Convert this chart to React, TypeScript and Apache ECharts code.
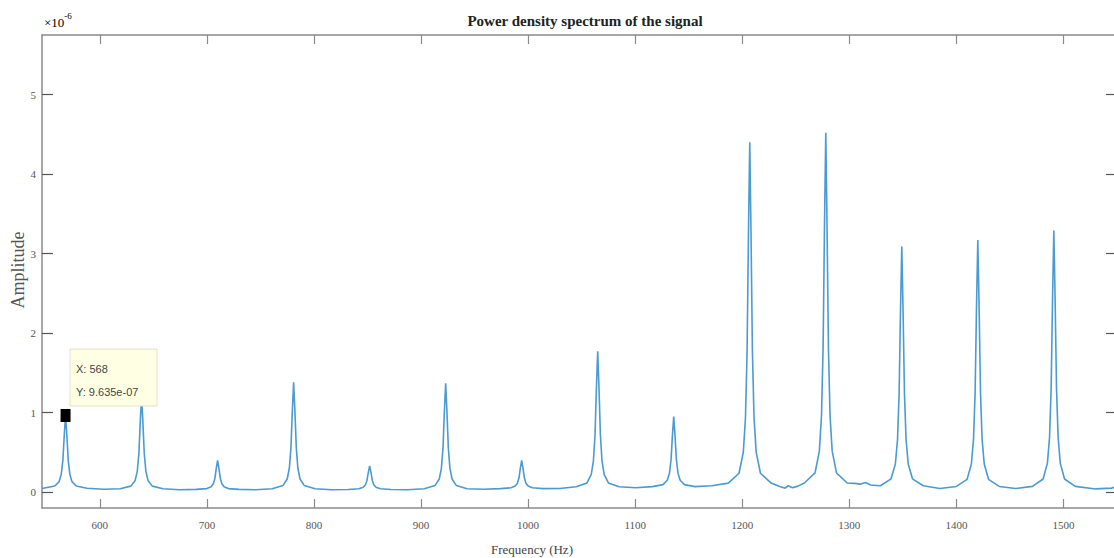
import React, { useEffect, useRef } from "react";
import * as echarts from "echarts";

// Frequency (Hz), amplitude (x1e-6)
const spectrum: [number, number][] = [
  [546, 0.045], [558, 0.076], [562, 0.132], [564, 0.225], [565.5, 0.4], [566.8, 0.719], [568, 0.9635], [569.2, 0.719], [570.5, 0.4], [572, 0.225], [574, 0.132], [578, 0.076], [588, 0.049],
  [603.5, 0.035],
  [619, 0.042], [629, 0.075], [633, 0.147], [635, 0.264], [636.5, 0.486], [637.8, 0.89], [639, 1.2], [640.2, 0.89], [641.5, 0.486], [643, 0.264], [645, 0.147], [649, 0.075], [659, 0.042],
  [674.5, 0.03],
  [690, 0.034], [700, 0.044], [704, 0.067], [706, 0.104], [707.5, 0.174], [708.8, 0.302], [710, 0.4], [711.2, 0.302], [712.5, 0.174], [714, 0.104], [716, 0.067], [720, 0.044], [730, 0.034],
  [745.5, 0.03],
  [761, 0.043], [771, 0.082], [775, 0.165], [777, 0.3], [778.5, 0.557], [779.8, 1.022], [781, 1.38], [782.2, 1.022], [783.5, 0.557], [785, 0.3], [787, 0.165], [791, 0.082], [801, 0.043],
  [816.5, 0.03],
  [832, 0.033], [842, 0.042], [846, 0.06], [848, 0.09], [849.5, 0.147], [850.8, 0.25], [852, 0.33], [853.2, 0.25], [854.5, 0.147], [856, 0.09], [858, 0.06], [862, 0.042], [872, 0.033],
  [887.5, 0.03],
  [903, 0.043], [913, 0.082], [917, 0.164], [919, 0.298], [920.5, 0.553], [921.8, 1.015], [923, 1.37], [924.2, 1.015], [925.5, 0.553], [927, 0.298], [929, 0.164], [933, 0.082], [943, 0.043],
  [958.5, 0.035],
  [974, 0.044], [984, 0.054], [988, 0.076], [990, 0.112], [991.5, 0.18], [992.8, 0.305], [994, 0.4], [995.2, 0.305], [996.5, 0.18], [998, 0.112], [1000, 0.076], [1004, 0.054], [1014, 0.044],
  [1029.5, 0.045],
  [1045, 0.067], [1055, 0.116], [1059, 0.222], [1061, 0.394], [1062.5, 0.721], [1063.8, 1.314], [1065, 1.77], [1066.2, 1.314], [1067.5, 0.721], [1069, 0.394], [1071, 0.222], [1075, 0.116], [1085, 0.067],
  [1100.5, 0.055],
  [1116, 0.069], [1126, 0.094], [1130, 0.149], [1132, 0.238], [1133.5, 0.407], [1134.8, 0.714], [1136, 0.95], [1137.2, 0.714], [1138.5, 0.407], [1140, 0.238], [1142, 0.149], [1146, 0.094], [1156, 0.069],
  [1171.5, 0.08],
  [1187, 0.113], [1197, 0.237], [1201, 0.503], [1203, 0.936], [1204.5, 1.759], [1205.8, 3.253], [1207, 4.4], [1208.2, 3.253], [1209.5, 1.759], [1211, 0.936], [1213, 0.503], [1217, 0.237], [1227, 0.113],
  [1235, 0.07], [1240, 0.05], [1243, 0.08], [1247, 0.055], [1252, 0.075],
  [1258, 0.114], [1268, 0.241], [1272, 0.515], [1274, 0.96], [1275.5, 1.806], [1276.8, 3.341], [1278, 4.52], [1279.2, 3.341], [1280.5, 1.806], [1282, 0.96], [1284, 0.515], [1288, 0.241], [1298, 0.114],
  [1305, 0.11], [1310, 0.1], [1315, 0.12], [1320, 0.09],
  [1329, 0.08], [1339, 0.167], [1343, 0.354], [1345, 0.658], [1346.5, 1.236], [1347.8, 2.284], [1349, 3.09], [1350.2, 2.284], [1351.5, 1.236], [1353, 0.658], [1355, 0.354], [1359, 0.167], [1369, 0.08],
  [1384.5, 0.045],
  [1400, 0.071], [1410, 0.161], [1414, 0.353], [1416, 0.666], [1417.5, 1.261], [1418.8, 2.341], [1420, 3.17], [1421.2, 2.341], [1422.5, 1.261], [1424, 0.666], [1426, 0.353], [1430, 0.161], [1440, 0.071],
  [1455.5, 0.045],
  [1471, 0.072], [1481, 0.165], [1485, 0.365], [1487, 0.69], [1488.5, 1.308], [1489.8, 2.429], [1491, 3.29], [1492.2, 2.429], [1493.5, 1.308], [1495, 0.69], [1497, 0.365], [1501, 0.165], [1511, 0.072],
  [1530, 0.04], [1545, 0.05], [1550, 0.07],
];

const xTicks = [600, 700, 800, 900, 1000, 1100, 1200, 1300, 1400, 1500];
const yTicks = [0, 1, 2, 3, 4, 5];
const dataTip: [number, number] = [568, 0.9635];
const dataTipLabels = ["X: 568", "Y: 9.635e-07"];

const serif = "'Liberation Serif', 'DejaVu Serif', serif";
const axisColor = "#8a8a8a";

export default function App() {
  const ref = useRef<HTMLDivElement>(null);
  useEffect(() => {
    if (!ref.current) return;
    const chart = echarts.init(ref.current, undefined, { renderer: "svg" });
    const commonX = {
      type: "value" as const,
      min: 546,
      max: 1550,
      splitLine: { show: false },
      axisLine: { show: true, onZero: false, lineStyle: { color: axisColor, width: 1.5 } },
    };
    const commonY = {
      type: "value" as const,
      min: -0.2,
      max: 5.75,
      splitLine: { show: false },
      axisLine: { show: true, onZero: false, lineStyle: { color: axisColor, width: 1.5 } },
    };
    chart.setOption({
      animation: false,
      backgroundColor: "#ffffff",
      title: {
        text: "Power density spectrum of the signal",
        left: 580,
        top: 8,
        textAlign: "center",
        textStyle: { fontFamily: serif, fontWeight: "bold", fontSize: 15, color: "#222" },
      },
      grid: { left: 42, top: 35, right: -3, bottom: 50, containLabel: false, outerBoundsMode: "none" },
      xAxis: [
        {
          ...commonX,
          position: "bottom",
          axisTick: { show: true, inside: true, length: 9, customValues: xTicks, lineStyle: { color: axisColor, width: 1.2 } },
          axisLabel: { customValues: xTicks, margin: 11, fontFamily: serif, fontSize: 11, color: "#555", formatter: (v: number) => String(v) },
        },
        {
          ...commonX,
          position: "top",
          axisTick: { show: true, inside: true, length: 9, customValues: xTicks, lineStyle: { color: axisColor, width: 1.2 } },
          axisLabel: { show: false },
        },
      ],
      yAxis: [
        {
          ...commonY,
          position: "left",
          axisTick: { show: true, inside: true, length: 11, customValues: yTicks, lineStyle: { color: "#555", width: 1.2 } },
          axisLabel: { customValues: yTicks, margin: 6, fontFamily: serif, fontSize: 11, color: "#555", formatter: (v: number) => String(v) },
        },
        {
          ...commonY,
          position: "right",
          axisTick: { show: true, inside: true, length: 11, customValues: yTicks, lineStyle: { color: "#555", width: 1.2 } },
          axisLabel: { show: false },
        },
      ],
      series: [
        {
          type: "line",
          data: spectrum,
          showSymbol: false,
          symbol: "none",
          lineStyle: { color: "#4a9bd1", width: 1.6 },
          xAxisIndex: 0,
          yAxisIndex: 0,
          z: 2,
        },
        {
          type: "scatter",
          data: [dataTip],
          symbol: "rect",
          symbolSize: [10, 13],
          itemStyle: { color: "#000", opacity: 1 },
          xAxisIndex: 0,
          yAxisIndex: 0,
          z: 3,
        },
      ],
      graphic: [
        {
          type: "text",
          left: 44,
          top: 11,
          style: {
            text: "{a|×10}{b|-6}",
            rich: {
              a: { fontFamily: serif, fontSize: 13, color: "#888", verticalAlign: "bottom" },
              b: { fontFamily: serif, fontSize: 9, color: "#888", verticalAlign: "top", padding: [0, 0, 9, 0] },
            },
          },
        },
        {
          type: "text",
          x: 18,
          y: 270,
          rotation: Math.PI / 2,
          style: {
            text: "Amplitude",
            fontFamily: serif,
            fontSize: 18,
            fill: "#555",
            align: "center",
            verticalAlign: "middle",
          },
        },
        {
          type: "text",
          x: 532,
          y: 549,
          style: {
            text: "Frequency (Hz)",
            fontFamily: serif,
            fontSize: 13,
            fill: "#444",
            align: "center",
            verticalAlign: "middle",
          },
        },
        {
          type: "rect",
          shape: { x: 70, y: 349, width: 87, height: 57 },
          style: { fill: "#ffffe4", stroke: "#e2e2cc", lineWidth: 1 },
          z: 10,
        },
        {
          type: "text",
          x: 76,
          y: 369,
          style: { text: dataTipLabels[0], fontFamily: "'Liberation Sans', Arial, sans-serif", fontSize: 11, fill: "#444", verticalAlign: "middle" },
          z: 11,
        },
        {
          type: "text",
          x: 76,
          y: 392,
          style: { text: dataTipLabels[1], fontFamily: "'Liberation Sans', Arial, sans-serif", fontSize: 11, fill: "#444", verticalAlign: "middle" },
          z: 11,
        },
      ],
    });
    return () => chart.dispose();
  }, []);
  return (
    <div
      ref={ref}
      style={{ position: "fixed", left: 0, top: 0, width: 1114, height: 558, background: "#fff" }}
    />
  );
}
